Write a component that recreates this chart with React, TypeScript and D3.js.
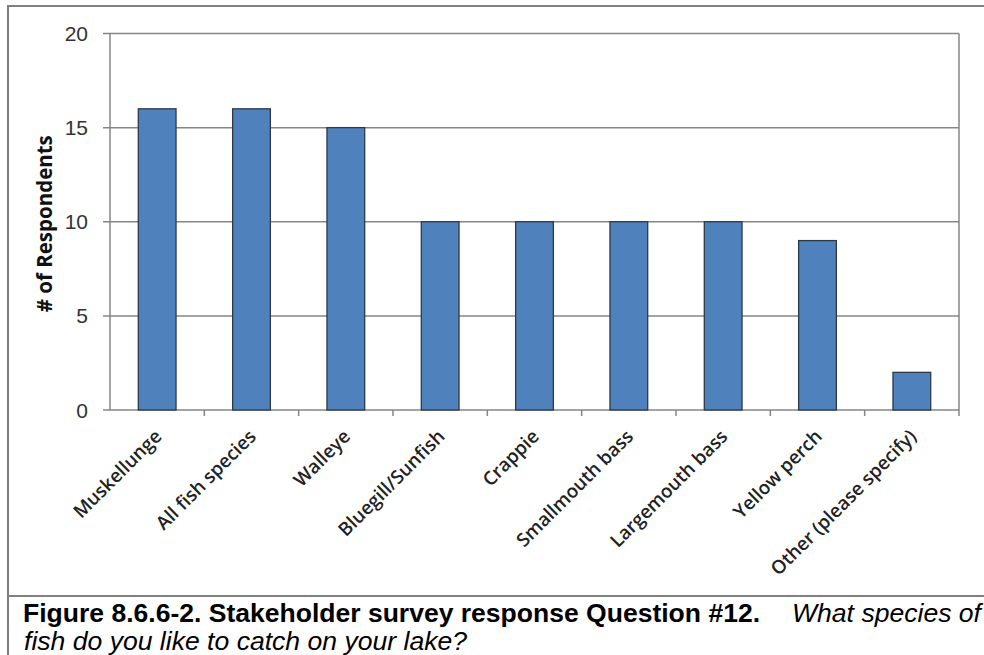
import React from "react";
import * as d3 from "d3";

const categories = [
  "Muskellunge",
  "All fish species",
  "Walleye",
  "Bluegill/Sunfish",
  "Crappie",
  "Smallmouth bass",
  "Largemouth bass",
  "Yellow perch",
  "Other (please specify)",
];
const respondents = [16, 16, 15, 10, 10, 10, 10, 9, 2];
const yTicks = [0, 5, 10, 15, 20];

const captionBold = "Figure 8.6.6-2. Stakeholder survey response Question #12.";
const captionItalic1 = "What species of";
const captionItalic2 = "fish do you like to catch on your lake?";

const W = 984;
const H = 655;
const plot = { left: 110, top: 33.5, right: 959, bottom: 410 };

export default function App() {
  const x = d3
    .scaleBand<string>()
    .domain(categories)
    .range([plot.left, plot.right])
    .paddingInner(0.6)
    .paddingOuter(0.3);
  const band = d3.scaleBand<string>().domain(categories).range([plot.left, plot.right]);
  const y = d3.scaleLinear().domain([0, 20]).range([plot.bottom, plot.top]);
  const grid = "#868686";
  const sans = "'Liberation Sans', Arial, sans-serif";
  const catFont = "'Open Sans', 'Noto Sans', sans-serif";
  const capSize = 25;

  return (
    <svg
      width={W}
      height={H}
      style={{ position: "absolute", left: 0, top: 0, background: "#fff" }}
    >
      {/* outer frame and caption divider */}
      <rect x={8} y={6} width={W} height={H} fill="none" stroke="#808080" strokeWidth={2} />
      <line x1={8} x2={W} y1={596} y2={596} stroke="#808080" strokeWidth={2} />

      {/* gridlines and y ticks */}
      {yTicks.map((t) => (
        <g key={t}>
          <line x1={plot.left - 7} x2={plot.right} y1={y(t)} y2={y(t)} stroke={grid} strokeWidth={1.5} />
          <text
            x={88}
            y={y(t)}
            dy="0.36em"
            textAnchor="end"
            fontFamily={sans}
            fontSize={21}
            fill="#333"
          >
            {t}
          </text>
        </g>
      ))}
      <line x1={plot.left} x2={plot.left} y1={plot.top} y2={plot.bottom} stroke={grid} strokeWidth={1.5} />
      <line x1={plot.right} x2={plot.right} y1={plot.top} y2={plot.bottom} stroke={grid} strokeWidth={1.5} />

      {/* category boundary ticks */}
      {categories.map((c) => (
        <line
          key={"t" + c}
          x1={(band(c) as number) + band.bandwidth()}
          x2={(band(c) as number) + band.bandwidth()}
          y1={plot.bottom}
          y2={plot.bottom + 6}
          stroke={grid}
          strokeWidth={1.5}
        />
      ))}

      {/* bars */}
      {categories.map((c, i) => (
        <rect
          key={c}
          x={x(c)}
          y={y(respondents[i])}
          width={x.bandwidth()}
          height={plot.bottom - y(respondents[i])}
          fill="#4F81BD"
          stroke="#2d3a4a"
          strokeWidth={1.3}
        />
      ))}

      {/* category labels */}
      {categories.map((c) => {
        const cx = (band(c) as number) + band.bandwidth() / 2 + 1;
        const cy = plot.bottom + 23;
        return (
          <text
            key={"l" + c}
            transform={`translate(${cx},${cy}) rotate(-45)`}
            textAnchor="end"
            dy="0.35em"
            fontFamily={catFont}
            fontWeight={600}
            fontSize={18.8}
            fill="#222"
          >
            {c}
          </text>
        );
      })}

      {/* y-axis title */}
      <text
        transform={`translate(52,${(plot.top + plot.bottom) / 2 + 2}) rotate(-90)`}
        textAnchor="middle"
        fontFamily={catFont}
        fontWeight={700}
        fontSize={20.5}
        fill="#111"
      >
        # of Respondents
      </text>

      {/* caption */}
      <text
        x={23}
        y={622}
        fontFamily={sans}
        fontSize={capSize}
        fontWeight={700}
        fill="#000"
        textLength={737}
        lengthAdjust="spacingAndGlyphs"
      >
        {captionBold}
      </text>
      <text
        x={792}
        y={622}
        fontFamily={sans}
        fontSize={capSize}
        fontStyle="italic"
        fill="#000"
        textLength={189}
        lengthAdjust="spacingAndGlyphs"
      >
        {captionItalic1}
      </text>
      <text
        x={24}
        y={650}
        fontFamily={sans}
        fontSize={capSize}
        fontStyle="italic"
        fill="#000"
        textLength={443}
        lengthAdjust="spacingAndGlyphs"
      >
        {captionItalic2}
      </text>
    </svg>
  );
}
